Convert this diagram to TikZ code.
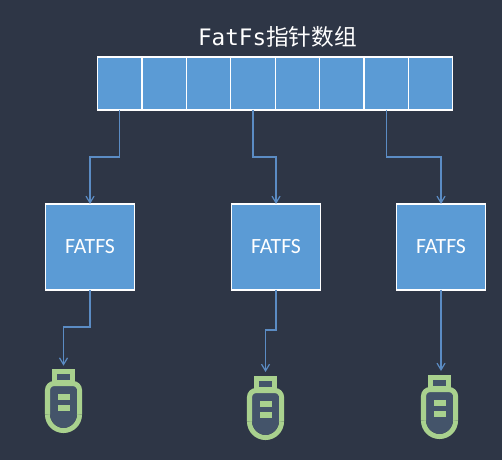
\documentclass[tikz,border=0pt]{standalone}
\usepackage{xcolor}
\usepackage{fontspec}
\setmainfont{Carlito}
\newfontfamily\titlelatin{DejaVu Sans Mono}
\newfontfamily\titlecjk{Noto Sans CJK SC}
\usetikzlibrary{arrows.meta, positioning}
\definecolor{slate}{HTML}{2E3646}
\definecolor{cellblue}{HTML}{5B9BD5}
\definecolor{linkblue}{HTML}{5B8CC4}
\definecolor{usbgreen}{HTML}{A9D18E}
\definecolor{usbfill}{HTML}{44546A}
\tikzset{
  usbstick/.pic={
    \coordinate (-top) at (0,0);
    \draw[usbgreen, line width=4.1pt, fill=usbfill] (-9,-2.7) rectangle (9,-14);
    \draw[usbgreen, line width=3.8pt, fill=usbfill, rounded corners=5pt]
      (-16,-45.5) -- (-16,-14.5) -- (16,-14.5) -- (16,-45.5);
    \fill[usbfill] (-13,-45.5) rectangle (13,-20);
    \draw[usbgreen, line width=3.8pt] (16,-45.5) arc[start angle=0, end angle=-180, radius=16];
    \fill[usbfill] (13.4,-45.5) arc[start angle=0, end angle=-180, radius=13.4] -- cycle;
    \fill[usbgreen] (-6,-25) rectangle (6,-30.5);
    \fill[usbgreen] (-6,-36) rectangle (6,-42);
  }
}
\begin{document}
\begin{tikzpicture}[
  x=0.75pt, y=0.75pt,
  slot/.style={draw=white, fill=cellblue, line width=0.9pt, outer sep=0pt, minimum width=33.3pt, minimum height=39.75pt},
  fsbox/.style={draw=white, fill=cellblue, line width=0.8pt, outer sep=0pt, text=white, font=\fontsize{16.3}{18}\selectfont, minimum width=67pt, minimum height=64.5pt},
  arrow/.style={-{Straight Barb[length=5pt,width=6pt]}, draw=linkblue, line width=0.9pt},
  node distance=0pt
]
\fill[slate] (0,0) rectangle (502,460);
\useasboundingbox (0,0) rectangle (502,460);

\node[text=white, font=\fontsize{17}{20}\selectfont] (title) at (277.5,423) {{\titlelatin FatFs}{\titlecjk 指针数组}};

\node[slot] (slot1) at (119.8,376.5) {};
\node[slot, right=of slot1] (slot2) {};
\node[slot, right=of slot2] (slot3) {};
\node[slot, right=of slot3] (slot4) {};
\node[slot, right=of slot4] (slot5) {};
\node[slot, right=of slot5] (slot6) {};
\node[slot, right=of slot6] (slot7) {};
\node[slot, right=of slot7] (slot8) {};

\node[fsbox] (fatfs1) at (90,213) {FATFS};
\node[fsbox] (fatfs2) at (276,213) {FATFS};
\node[fsbox] (fatfs3) at (441,213) {FATFS};

\pic (usb1) at (63.5,91) {usbstick};
\pic (usb2) at (265.5,84) {usbstick};
\pic (usb3) at (439.5,85) {usbstick};

\draw[arrow] (slot1.south) -- ++(0,-47) -| (fatfs1.north);
\draw[arrow] (slot4.south) -- ++(0,-47) -| (fatfs2.north);
\draw[arrow] (slot7.south) -- ++(0,-47) -| (fatfs3.north);
\draw[arrow] (fatfs1.south) -- ++(0,-37) -| ([yshift=2.5pt]usb1-top);
\draw[arrow] (fatfs2.south) -- ++(0,-40) -| ([yshift=3pt]usb2-top);
\draw[arrow] (fatfs3.south) -- ([yshift=3pt]fatfs3.south |- usb3-top);
\end{tikzpicture}
\end{document}
